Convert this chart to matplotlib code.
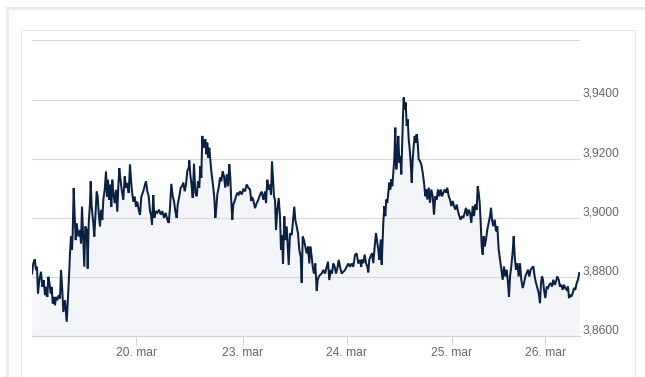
import matplotlib
matplotlib.use("Agg")
import matplotlib.pyplot as plt
from matplotlib.patches import Rectangle
from matplotlib.transforms import ScaledTranslation
import numpy as np

# ---------------- data ----------------
# session time (trading-session index) and exchange rate
t_a = [0.000,0.013,0.027,0.040,0.050,0.060,0.073,0.090,0.103,0.117,0.130,0.143,0.153,0.163,0.173,0.187,0.197,0.207,0.220,0.230,0.240,0.253,0.267,0.280,0.290,0.303,0.313,0.330,0.347,0.357,0.370,0.380,0.390,0.400,0.407,0.417,0.427,0.437,0.447,0.463,0.480,0.490,0.500,0.513,0.523,0.533,0.547,0.557,0.567,0.580,0.587,0.597,0.613,0.623,0.637,0.647,0.657,0.667,0.680,0.690,0.703,0.713,0.727,0.740,0.750,0.760,0.773,0.783,0.793,0.803,0.813,0.827,0.840,0.853,0.863,0.873,0.883,0.897,0.913,0.927,0.940,0.953,0.967,0.980,0.990,1.000,1.013,1.027,1.040,1.053,1.067,1.080,1.093]
v_a = [3.8812,3.8846,3.8860,3.8824,3.8835,3.8745,3.8790,3.8818,3.8767,3.8790,3.8739,3.8767,3.8733,3.8801,3.8784,3.8745,3.8767,3.8711,3.8733,3.8705,3.8733,3.8722,3.8739,3.8728,3.8824,3.8756,3.8682,3.8722,3.8649,3.8711,3.8801,3.8880,3.8937,3.8892,3.8948,3.9101,3.9005,3.8925,3.8982,3.8937,3.8959,3.8914,3.9038,3.8925,3.8835,3.8971,3.8959,3.8829,3.8982,3.9050,3.9123,3.9038,3.8982,3.8937,3.9027,3.9089,3.9072,3.9016,3.8971,3.9027,3.8993,3.9061,3.9095,3.9157,3.9072,3.9129,3.9061,3.9112,3.9038,3.9129,3.9084,3.9050,3.9095,3.9021,3.9106,3.9168,3.9134,3.9095,3.9061,3.9140,3.9101,3.9118,3.9084,3.9180,3.9129,3.9089,3.9055,3.9072,3.9038,3.9055,3.9027,3.9010,3.9072]

t_b = [1.113,1.130,1.140,1.153,1.167,1.180,1.190,1.200,1.213,1.223,1.237,1.253,1.270,1.287,1.303,1.320,1.337,1.353,1.367,1.380,1.393,1.407,1.420,1.433,1.447,1.457,1.473,1.487,1.500,1.513,1.527,1.540,1.553,1.567,1.573,1.583,1.597,1.607,1.620,1.633,1.647,1.660,1.673,1.683,1.693,1.703,1.713,1.723,1.733,1.743,1.753,1.763,1.773,1.783,1.793,1.803,1.813,1.823,1.833,1.843,1.853,1.867,1.880,1.893,1.907,1.920,1.933,1.947,1.960,1.973,1.983,1.993,2.003,2.013,2.027,2.040,2.053,2.067,2.080,2.097,2.113,2.130,2.147,2.163,2.180,2.193]
v_b = [3.9090,3.9113,3.9124,3.9090,3.9073,3.9023,3.9011,3.8977,3.9077,3.9000,3.9023,3.9017,3.9028,3.9011,3.9023,3.9000,3.9017,3.8994,3.8983,3.9034,3.9115,3.9073,3.9057,3.9023,3.9000,3.9045,3.9073,3.9102,3.9107,3.9119,3.9090,3.9113,3.9158,3.9170,3.9194,3.9147,3.9107,3.9068,3.9183,3.9085,3.9073,3.9124,3.9102,3.9175,3.9136,3.9277,3.9237,3.9249,3.9266,3.9215,3.9254,3.9203,3.9237,3.9198,3.9158,3.9130,3.9102,3.9068,3.9000,3.9034,3.9079,3.9102,3.9136,3.9124,3.9158,3.9141,3.9102,3.9147,3.9107,3.9181,3.9136,3.9057,3.8994,3.9045,3.9057,3.9073,3.9085,3.9079,3.9090,3.9079,3.9096,3.9090,3.9113,3.9102,3.9096,3.9057]

t_c = [2.200,2.213,2.230,2.247,2.263,2.280,2.297,2.313,2.330,2.340,2.353,2.367,2.380,2.390,2.400,2.410,2.420,2.430,2.440,2.453,2.467,2.480,2.490,2.500,2.510,2.523,2.533,2.547,2.557,2.567,2.580,2.597,2.613,2.623,2.633,2.647,2.660,2.673,2.687,2.697,2.707,2.720,2.733,2.747,2.760,2.773,2.783,2.797,2.807,2.820,2.833,2.847,2.857,2.867,2.880,2.897,2.913,2.930,2.947,2.960,2.973,2.987,3.000,3.013,3.027,3.040,3.053,3.067,3.080,3.097,3.113,3.130,3.147,3.163,3.180,3.197,3.213,3.230,3.247,3.263,3.280,3.293]
v_c = [3.9070,3.9061,3.9033,3.9050,3.9061,3.9078,3.9089,3.9061,3.9089,3.9050,3.9129,3.9095,3.9112,3.9078,3.9191,3.9129,3.9072,3.9061,3.8959,3.9027,3.9067,3.9005,3.8892,3.8942,3.8846,3.9005,3.8925,3.8971,3.8903,3.8841,3.8948,3.8942,3.8999,3.9038,3.8993,3.8971,3.8948,3.8892,3.8869,3.8781,3.8937,3.8925,3.8903,3.8880,3.8903,3.8846,3.8903,3.8869,3.8835,3.8812,3.8846,3.8754,3.8790,3.8801,3.8807,3.8812,3.8824,3.8812,3.8835,3.8852,3.8790,3.8824,3.8812,3.8846,3.8835,3.8812,3.8829,3.8858,3.8835,3.8812,3.8818,3.8824,3.8835,3.8846,3.8835,3.8846,3.8835,3.8875,3.8880,3.8846,3.8858,3.8835]

t_d = [3.297,3.313,3.327,3.340,3.353,3.363,3.373,3.387,3.400,3.413,3.427,3.440,3.453,3.463,3.473,3.487,3.497,3.507,3.513,3.523,3.533,3.543,3.553,3.563,3.573,3.583,3.593,3.603,3.613,3.623,3.633,3.643,3.653,3.663,3.673,3.683,3.693,3.703,3.710,3.717,3.727,3.737,3.747,3.757,3.767,3.777,3.787,3.797,3.807,3.817,3.827,3.837,3.847,3.857,3.867,3.880,3.893,3.907,3.920,3.933,3.943,3.953,3.967,3.980,3.993,4.007,4.020,4.033,4.047,4.060,4.073,4.087,4.100,4.113,4.127,4.140,4.153,4.167,4.180,4.193,4.207,4.220,4.233,4.247,4.260,4.273,4.287,4.300,4.313,4.327,4.340,4.353,4.367,4.380]
v_d = [3.8859,3.8847,3.8876,3.8847,3.8836,3.8816,3.8859,3.8870,3.8881,3.8847,3.8904,3.8949,3.8915,3.8893,3.8859,3.8927,3.8842,3.8927,3.8983,3.9040,3.9006,3.9062,3.9051,3.9085,3.9119,3.9096,3.9130,3.9107,3.9153,3.9198,3.9305,3.9164,3.9209,3.9277,3.9187,3.9209,3.9147,3.9266,3.9345,3.9407,3.9367,3.9390,3.9311,3.9333,3.9266,3.9232,3.9187,3.9119,3.9198,3.9243,3.9277,3.9254,3.9283,3.9254,3.9198,3.9192,3.9181,3.9153,3.9119,3.9073,3.9096,3.9062,3.9102,3.9051,3.9096,3.9073,3.9011,3.9073,3.9062,3.9096,3.9073,3.9096,3.9073,3.9085,3.9096,3.9085,3.9102,3.9073,3.9062,3.9040,3.9057,3.9040,3.9028,3.9045,3.9023,3.9006,3.8994,3.9006,3.9000,3.9017,3.9034,3.9006,3.9028,3.9017]

t_e = [4.393,4.407,4.420,4.433,4.447,4.457,4.467,4.477,4.487,4.497,4.507,4.517,4.527,4.540,4.553,4.567,4.580,4.590,4.600,4.613,4.627,4.640,4.653,4.667,4.680,4.693,4.707,4.720,4.733,4.747,4.760,4.770,4.780,4.793,4.807,4.817,4.827,4.840,4.853,4.867,4.880,4.893,4.907,4.920,4.933,4.947,4.960,4.973,4.987,5.000,5.013,5.027,5.040,5.053,5.067,5.080,5.090,5.100,5.110,5.120,5.133,5.147,5.160,5.173,5.187,5.200,5.213,5.227,5.240,5.253,5.267,5.280,5.293,5.307,5.320,5.333,5.347,5.360,5.370,5.380,5.393,5.407,5.420,5.433,5.447,5.460,5.473]
v_e = [3.8983,3.9040,3.9006,3.9045,3.9028,3.9107,3.9085,3.9051,3.8983,3.8904,3.8876,3.8938,3.8904,3.8927,3.8960,3.8983,3.9006,3.9034,3.8994,3.8972,3.8994,3.8955,3.8972,3.8893,3.8859,3.8825,3.8791,3.8836,3.8802,3.8825,3.8780,3.8734,3.8802,3.8836,3.8887,3.8938,3.8870,3.8825,3.8847,3.8802,3.8847,3.8791,3.8763,3.8780,3.8802,3.8814,3.8825,3.8802,3.8825,3.8831,3.8836,3.8802,3.8780,3.8763,3.8746,3.8712,3.8780,3.8802,3.8791,3.8757,3.8729,3.8768,3.8763,3.8774,3.8780,3.8768,3.8791,3.8774,3.8785,3.8802,3.8791,3.8768,3.8774,3.8757,3.8774,3.8763,3.8757,3.8768,3.8729,3.8740,3.8734,3.8746,3.8763,3.8757,3.8780,3.8791,3.8814]

tick_pos = [1.043, 2.110, 3.150, 4.200, 5.133]
tick_labels = ["20. mar", "23. mar", "24. mar", "25. mar", "26. mar"]
y_ticks = [3.86, 3.88, 3.90, 3.92, 3.94, 3.96]
y_labels = ["3,8600", "3,8800", "3,9000", "3,9200", "3,9400", ""]

for a, b in [(t_a, v_a), (t_b, v_b), (t_c, v_c), (t_d, v_d), (t_e, v_e)]:
    assert len(a) == len(b), (len(a), len(b))

t = np.array(t_a + t_b + t_c + t_d + t_e)
rate = np.array(v_a + v_b + v_c + v_d + v_e)

# ---------------- figure ----------------
W, H = 645, 377
DPI = 100
fig = plt.figure(figsize=(W / DPI, H / DPI), dpi=DPI)
fig.patch.set_facecolor("white")

def fx(px):
    return px / W

def fy(py):
    return 1 - py / H

# outer container band (top + left)
fig.patches.append(Rectangle((fx(6), fy(10)), fx(645 - 6), 3 / H, transform=fig.transFigure,
                             facecolor="#ececec", edgecolor="none", zorder=0))
fig.patches.append(Rectangle((fx(6), 0), 3 / W, fy(7), transform=fig.transFigure,
                             facecolor="#ececec", edgecolor="none", zorder=0))
# inner chart box
fig.patches.append(Rectangle((fx(21), -0.05), fx(635 - 21), fy(30) + 0.05, transform=fig.transFigure,
                             facecolor="none", edgecolor="#e6e6e6", linewidth=0.75, zorder=0))

left, right = 32, 580
top, bottom = 40.3, 336.3
ax = fig.add_axes([fx(left), fy(bottom), fx(right - left), (bottom - top) / H])
ax.set_facecolor("none")

ax.fill_between(t, rate, 3.86, color="#f3f5f8", linewidth=0, zorder=0.3)
ax.plot(t, rate, color="#0b2143", linewidth=1.45, zorder=2, solid_joinstyle="miter")

ax.set_xlim(0, 5.48)
ax.set_ylim(3.86, 3.96)

ax.set_yticks(y_ticks)
ax.set_yticklabels(y_labels)
ax.yaxis.tick_right()
ax.grid(axis="y", color="#d9d9d9", linewidth=0.8)
ax.set_axisbelow(True)

ax.set_xticks(tick_pos)
ax.set_xticklabels(tick_labels)

for s in ["top", "left", "right"]:
    ax.spines[s].set_visible(False)
ax.spines["bottom"].set_color("#ccd6eb")
ax.spines["bottom"].set_linewidth(0.9)
ax.spines["bottom"].set_zorder(3)

font = "Liberation Sans"
ax.tick_params(axis="x", direction="out", length=6.8, width=0.8, color="#ccd6eb",
               pad=0.8, labelsize=8.64, labelcolor="#666666")
ax.tick_params(axis="y", length=0, pad=1.5, labelsize=8.64, labelcolor="#666666")
for lab in ax.get_xticklabels() + ax.get_yticklabels():
    lab.set_fontfamily(font)
for lab in ax.get_yticklabels():
    lab.set_verticalalignment("center")
    lab.set_transform(lab.get_transform() + ScaledTranslation(0, 5.6 / DPI, fig.dpi_scale_trans))

fig.savefig("out.png", dpi=DPI, facecolor="white")
